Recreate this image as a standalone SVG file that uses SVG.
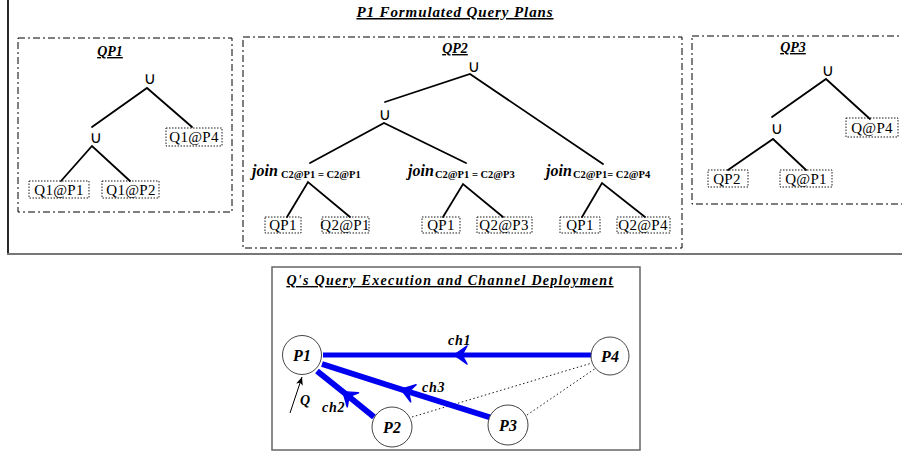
<svg xmlns="http://www.w3.org/2000/svg" width="902" height="453" viewBox="0 0 902 453">
  <style>
    .title { font-family: "Liberation Serif", serif; font-weight: bold; font-style: italic; text-decoration: underline; fill: #000; }
    .plan { fill: none; stroke: #000; stroke-width: 1; stroke-dasharray: 7 3 2 3; }
    .edge { fill: none; stroke: #000; stroke-width: 1.8; stroke-linecap: round; }
    .leaf { fill: #fff; stroke: #000; stroke-width: 0.9; stroke-dasharray: 1.5 1.5; }
    .leaf-t { font-family: "Liberation Serif", serif; font-size: 15px; letter-spacing: 0.3px; text-anchor: middle; fill: #000; }
    .union { font-family: "DejaVu Sans", sans-serif; font-size: 17px; text-anchor: middle; fill: #000; }
    .join { font-family: "Liberation Serif", serif; font-size: 16px; font-weight: bold; font-style: italic; fill: #000; }
    .cond { font-family: "Liberation Serif", serif; font-size: 10.5px; font-weight: bold; fill: #000; }
    .site { fill: #fff; stroke: #444; stroke-width: 1; }
    .site-t { font-family: "Liberation Serif", serif; font-size: 16px; font-weight: bold; font-style: italic; text-anchor: middle; fill: #000; }
    .chan { fill: none; stroke: #0000f0; stroke-linecap: butt; marker-mid: url(#chev); }
    .chan-t { font-family: "Liberation Serif", serif; font-size: 14px; font-weight: bold; font-style: italic; letter-spacing: 0.8px; fill: #000; }
    .link { fill: none; stroke: #000; stroke-width: 0.9; stroke-dasharray: 1.5 2.5; }
  </style>
  <defs>
    <marker id="chev" markerUnits="userSpaceOnUse" viewBox="-16 -10 18 20" refX="0" refY="0" markerWidth="18" markerHeight="20" orient="auto" overflow="visible">
      <path d="M-1,0 Q-7,-4 -14,-9 L-9,0 L-14,9 Q-7,4 -1,0 Z" fill="#0000f0" stroke="#0000f0" stroke-width="1.5" stroke-linejoin="round"/>
    </marker>
    <marker id="tip" markerUnits="userSpaceOnUse" viewBox="-8 -4 9 8" refX="0" refY="0" markerWidth="9" markerHeight="8" orient="auto" overflow="visible">
      <path d="M0,0 L-8,-3.5 L-6,0 L-8,3.5 Z" fill="#000"/>
    </marker>
  </defs>
  <rect x="0" y="0" width="902" height="453" fill="#fff"/>

  <!-- upper frame: formulated plans -->
  <g id="plans-frame">
    <line x1="8" y1="0" x2="8" y2="254" stroke="#111" stroke-width="1.8"/>
    <line x1="7" y1="254" x2="902" y2="254" stroke="#777" stroke-width="2.2"/>
    <text class="title" x="455" y="17" font-size="15" letter-spacing="0.9" text-anchor="middle">P1 Formulated Query Plans</text>
  </g>

  <!-- plan QP1 -->
  <g id="qp1">
    <rect class="plan" x="18" y="38" width="214" height="174"/>
    <text class="title" x="110" y="56" font-size="14" text-anchor="middle">QP1</text>
    <text class="union" x="150" y="84">∪</text>
    <text class="union" x="96" y="143">∪</text>
  </g>
  <g id="qp1-leaves">
    <rect class="leaf" x="29" y="181" width="60" height="17"/>
    <text class="leaf-t" x="59" y="195">Q1@P1</text>
    <rect class="leaf" x="102" y="181" width="57" height="17"/>
    <text class="leaf-t" x="131" y="195">Q1@P2</text>
    <rect class="leaf" x="166" y="128" width="56" height="18"/>
    <text class="leaf-t" x="194" y="142">Q1@P4</text>
  </g>

  <!-- plan QP2 -->
  <g id="qp2">
    <rect class="plan" x="243" y="37" width="439" height="211"/>
    <text class="title" x="455" y="53" font-size="14" text-anchor="middle">QP2</text>
    <text class="union" x="474" y="72">∪</text>
    <text class="union" x="385" y="120">∪</text>
  </g>
  <g id="qp2-join1">
    <text class="join" x="252" y="176">join</text>
    <text class="cond" x="281" y="178">C2@P1 = C2@P1</text>
    <rect class="leaf" x="265" y="217" width="36" height="16"/>
    <text class="leaf-t" x="283" y="230">QP1</text>
    <rect class="leaf" x="322" y="217" width="47" height="16"/>
    <text class="leaf-t" x="345" y="230">Q2@P1</text>
  </g>
  <g id="qp2-join2">
    <text class="join" x="408" y="176">join</text>
    <text class="cond" x="435" y="178">C2@P1 = C2@P3</text>
    <rect class="leaf" x="422" y="217" width="38" height="16"/>
    <text class="leaf-t" x="441" y="230">QP1</text>
    <rect class="leaf" x="477" y="217" width="55" height="16"/>
    <text class="leaf-t" x="504" y="230">Q2@P3</text>
  </g>
  <g id="qp2-join3">
    <text class="join" x="546" y="176">join</text>
    <text class="cond" x="573" y="178">C2@P1= C2@P4</text>
    <rect class="leaf" x="560" y="217" width="40" height="16"/>
    <text class="leaf-t" x="580" y="230">QP1</text>
    <rect class="leaf" x="617" y="217" width="53" height="16"/>
    <text class="leaf-t" x="643" y="230">Q2@P4</text>
  </g>

  <!-- plan QP3 -->
  <g id="qp3">
    <rect class="plan" x="692" y="36" width="214" height="168"/>
    <text class="title" x="793" y="52" font-size="14" text-anchor="middle">QP3</text>
    <text class="union" x="828" y="76">∪</text>
    <text class="union" x="777" y="134">∪</text>
  </g>
  <g id="qp3-leaves">
    <rect class="leaf" x="708" y="170" width="40" height="17"/>
    <text class="leaf-t" x="727" y="184">QP2</text>
    <rect class="leaf" x="780" y="170" width="52" height="17"/>
    <text class="leaf-t" x="806" y="184">Q@P1</text>
    <rect class="leaf" x="846" y="118" width="52" height="19"/>
    <text class="leaf-t" x="872" y="133">Q@P4</text>
  </g>

  <!-- plan tree edges -->
  <g id="tree-edges">
    <path class="edge" d="M92,127 L147,88 L192,127"/>
    <path class="edge" d="M61,181 L92,146 L130,181"/>
    <path class="edge" d="M385,102 L470,74 L603,164"/>
    <path class="edge" d="M310,163 L384,123 L466,163"/>
    <path class="edge" d="M287,217 L308,182 L350,217"/>
    <path class="edge" d="M443,217 L463,184 L503,217"/>
    <path class="edge" d="M582,217 L602,183 L645,217"/>
    <path class="edge" d="M772,117 L826,79 L870,119"/>
    <path class="edge" d="M728,170 L773,139 L806,170"/>
  </g>

  <!-- lower frame: execution and channels -->
  <g id="exec-frame">
    <rect x="272" y="267" width="368" height="183" fill="none" stroke="#666" stroke-width="1.5"/>
    <text class="title" x="450" y="285" font-size="14" letter-spacing="1.3" text-anchor="middle">Q's Query Execution and Channel Deployment</text>
  </g>

  <!-- channels and links between sites -->
  <g id="channels">
    <path class="link" d="M412,417 L592,363"/>
    <path class="link" d="M527,415 L596,368"/>
    <path class="chan" stroke-width="5" d="M592,355 L453,355 L323,355"/>
    <path class="chan" stroke-width="6" d="M492,418 L400,389 L322,364"/>
    <path class="chan" stroke-width="6" d="M374,417 L342,391 L317,371"/>
    <path d="M290,413 L302,377" stroke="#000" stroke-width="1" fill="none" marker-end="url(#tip)"/>
    <text class="chan-t" x="448" y="345">ch1</text>
    <text class="chan-t" x="422" y="392">ch3</text>
    <text class="chan-t" x="322" y="412">ch2</text>
    <text class="chan-t" x="300" y="405">Q</text>
  </g>

  <g id="site-p1">
    <circle class="site" cx="302" cy="355" r="19.5"/>
    <text class="site-t" x="302" y="361">P1</text>
  </g>
  <g id="site-p4">
    <circle class="site" cx="610" cy="356" r="19"/>
    <text class="site-t" x="610" y="362">P4</text>
  </g>
  <g id="site-p2">
    <circle class="site" cx="392" cy="427" r="20"/>
    <text class="site-t" x="392" y="433">P2</text>
  </g>
  <g id="site-p3">
    <circle class="site" cx="508" cy="425" r="20"/>
    <text class="site-t" x="508" y="431">P3</text>
  </g>
</svg>
